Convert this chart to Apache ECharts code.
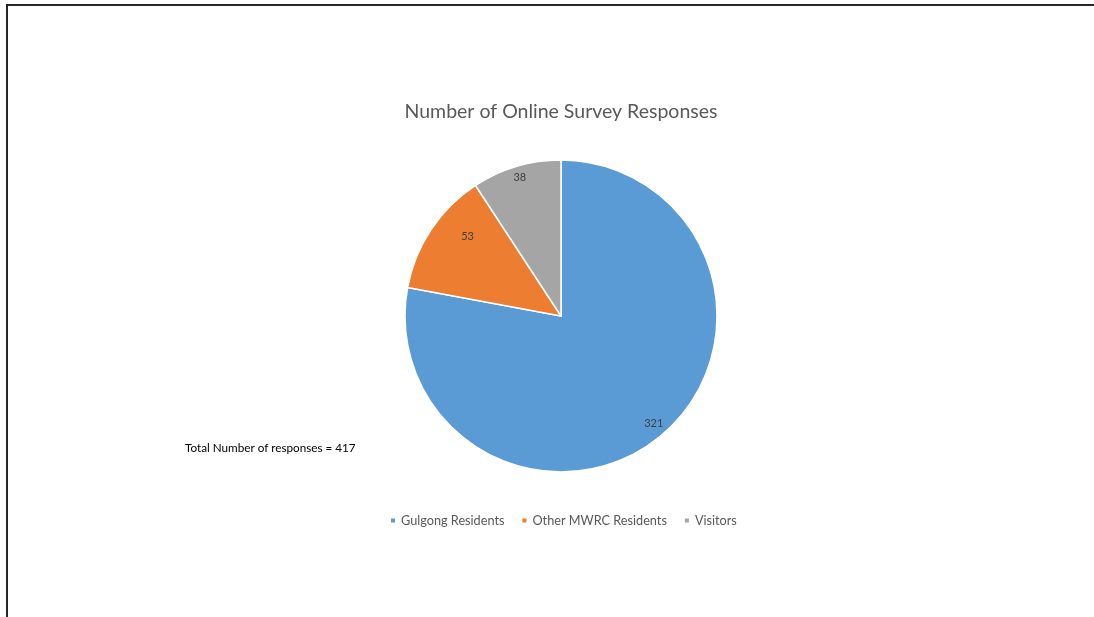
<!DOCTYPE html>
<html>
<head>
<meta charset="utf-8">
<script src="https://cdn.jsdelivr.net/npm/echarts@6/dist/echarts.min.js"></script>
<style>
  html, body { margin: 0; padding: 0; background: #fff; }
  #chart { width: 1094px; height: 617px; }
</style>
</head>
<body>
<div id="chart"></div>
<script>
// Survey response counts by respondent group
const categories = ['Gulgong Residents', 'Other MWRC Residents', 'Visitors'];
const responses = [321, 53, 38];
const colors = ['#5B9BD5', '#ED7D31', '#A5A5A5'];
const titleText = 'Number of Online Survey Responses';
const totalNote = 'Total Number of responses = 417';

// label nudges (px) away from the default mid-radius placement
const labelNudge = [[41, 45], [-26, -35], [-18, -61]];

const font = 'Lato, "Open Sans", sans-serif';
const chart = echarts.init(document.getElementById('chart'), null, { renderer: 'canvas' });

chart.setOption({
  animation: false,
  backgroundColor: '#ffffff',
  title: {
    text: titleText,
    left: 556,
    top: 97,
    textAlign: 'center',
    textStyle: { fontFamily: font, fontSize: 19.5, fontWeight: 'normal', color: '#595959' }
  },
  legend: {
    data: categories,
    left: 384,
    top: 509,
    icon: 'rect',
    itemWidth: 6,
    itemHeight: 6,
    itemGap: 16,
    textStyle: { fontFamily: font, fontSize: 12.7, color: '#595959' }
  },
  graphic: [
    { type: 'line', shape: { x1: 6, y1: 5, x2: 1094, y2: 5 }, style: { stroke: '#262626', lineWidth: 2 } },
    { type: 'line', shape: { x1: 7, y1: 5, x2: 7, y2: 617 }, style: { stroke: '#262626', lineWidth: 2 } },
    {
      type: 'text', left: 185, top: 442,
      style: { text: totalNote, fontFamily: font, fontSize: 11.7, fill: '#000000' }
    }
  ],
  series: [{
    type: 'pie',
    center: [561, 316],
    radius: 156,
    startAngle: 90,
    clockwise: true,
    avoidLabelOverlap: false,
    itemStyle: { borderColor: '#ffffff', borderWidth: 1.5 },
    label: {
      show: true,
      position: 'inside',
      formatter: '{c}',
      fontFamily: font,
      fontSize: 11,
      color: '#404040'
    },
    labelLine: { show: false },
    emphasis: { disabled: true },
    labelLayout: function (p) {
      const n = labelNudge[p.dataIndex];
      return { dx: n[0], dy: n[1] };
    },
    data: categories.map((name, i) => ({
      name: name,
      value: responses[i],
      itemStyle: { color: colors[i] }
    }))
  }]
});
</script>
</body>
</html>
